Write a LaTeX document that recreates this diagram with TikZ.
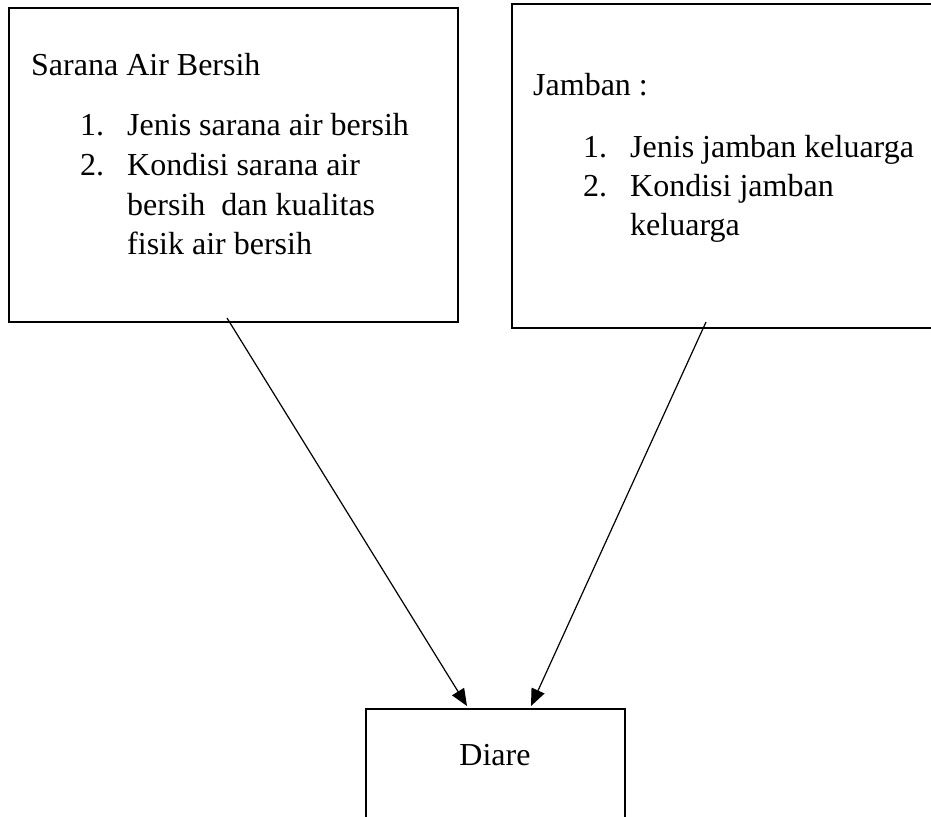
\documentclass[tikz,border=0pt]{standalone}
\usepackage{fontspec}
\setmainfont{Liberation Serif}
\usetikzlibrary{arrows.meta}
\begin{document}
\begin{tikzpicture}[x=1pt,y=-1pt,
  boxed/.style={draw=black,line width=2.6pt,rectangle,inner sep=0pt},
  txt/.style={anchor=base west,inner sep=0pt,font=\fontsize{32}{40}\selectfont},
  ctxt/.style={anchor=base,inner sep=0pt,font=\fontsize{32}{40}\selectfont},
  conn/.style={line width=1.2pt,-{Triangle[length=17pt,width=14pt]}}]
\useasboundingbox (0,0) rectangle (931,816);
\fill[white] (0,0) rectangle (931,816);
% boxes
\node[boxed,minimum width=449pt,minimum height=314pt] (sab) at (233.5,165) {};
\node[boxed,minimum width=424pt,minimum height=324pt] (jam) at (724,166) {};
\node[boxed,minimum width=259pt,minimum height=124pt] (dia) at (495.5,771) {};
% left texts
\node[txt] (sabt) at (31,75) {Sarana Air Bersih};
\node[txt] (sabn1) at (80,135) {1.};
\node[txt] (sabi1) at (127,135) {Jenis sarana air bersih};
\node[txt] (sabn2) at (80,175) {2.};
\node[txt] (sabi2a) at (127,175) {Kondisi sarana air};
\node[txt] (sabi2b) at (127,215) {bersih\ \ dan kualitas};
\node[txt] (sabi2c) at (127,254) {fisik air bersih};
% right texts
\node[txt] (jamt) at (533,95) {Jamban :};
\node[txt] (jamn1) at (583,157) {1.};
\node[txt] (jami1) at (630,157) {Jenis jamban keluarga};
\node[txt] (jamn2) at (583,196) {2.};
\node[txt] (jami2a) at (630,196) {Kondisi jamban};
\node[txt] (jami2b) at (630,235) {keluarga};
% bottom text
\node[ctxt] (diat) at (495,765) {Diare};
% connectors
\coordinate (a1s) at (227,318);
\coordinate (a1e) at (467,706);
\coordinate (a2s) at (706,322);
\coordinate (a2e) at (531,706);
\draw[conn] (a1s) -- (a1e);
\draw[conn] (a2s) -- (a2e);
\end{tikzpicture}
\end{document}
